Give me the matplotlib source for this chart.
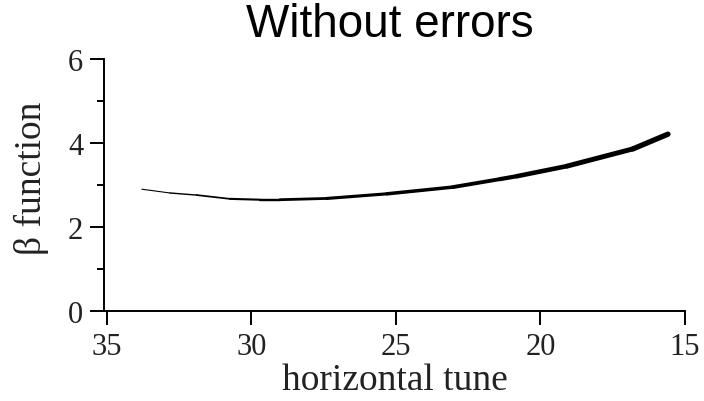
import numpy as np
import matplotlib
matplotlib.use("Agg")
import matplotlib.pyplot as plt
from matplotlib.collections import LineCollection

# values
tune = [33.79, 32.82, 31.89, 30.74, 29.71, 29.01, 27.39, 25.31,
        23.03, 21.40, 20.81, 19.08, 16.80, 15.59]
beta = [2.90, 2.81, 2.76, 2.67, 2.65, 2.65, 2.68, 2.79,
        2.95, 3.14, 3.21, 3.45, 3.86, 4.21]
x_ticks = [35, 30, 25, 20, 15]
y_ticks = [0, 2, 4, 6]
y_minor = [1, 3, 5]

serif = "Liberation Serif"
sans = "Liberation Sans"

fig = plt.figure(figsize=(7.04, 4.02), dpi=100)
ax = fig.add_axes([104 / 704, 90 / 402, 581 / 704, 252 / 402])

# scatter band gets thicker toward low tune
pts = np.column_stack([tune, beta]).reshape(-1, 1, 2)
segs = np.concatenate([pts[:-1], pts[1:]], axis=1)
widths = np.linspace(0.8, 3.4, len(segs)) ** 1.1
ax.add_collection(LineCollection(segs, colors="black", linewidths=widths,
                                 capstyle="round"))

ax.set_xlim(35.1, 15)
ax.set_ylim(0, 6)
ax.set_xticks(x_ticks)
ax.set_yticks(y_ticks)
ax.set_yticks(y_minor, minor=True)

for s in ["top", "right"]:
    ax.spines[s].set_visible(False)
for s in ["left", "bottom"]:
    ax.spines[s].set_linewidth(1.4)

ax.tick_params(axis="both", which="major", length=10, width=1.4, pad=5,
               labelsize=22, direction="out")
ax.tick_params(axis="y", which="minor", length=5, width=1.4)
for lab in ax.get_xticklabels() + ax.get_yticklabels():
    lab.set_fontfamily(serif)
    lab.set_color("#222222")

ax.set_xlabel("horizontal tune", fontsize=27, family=serif, color="#222222")
ax.set_ylabel("β function", fontsize=27, family=serif, color="#222222")
ax.xaxis.set_label_coords(0.5, -0.205)
ax.yaxis.set_label_coords(-0.094, 0.53)

fig.text(390 / 704, 1 - 37 / 402, "Without errors", fontsize=33,
         family=sans, ha="center", va="baseline")

fig.savefig("out.png", dpi=100)
